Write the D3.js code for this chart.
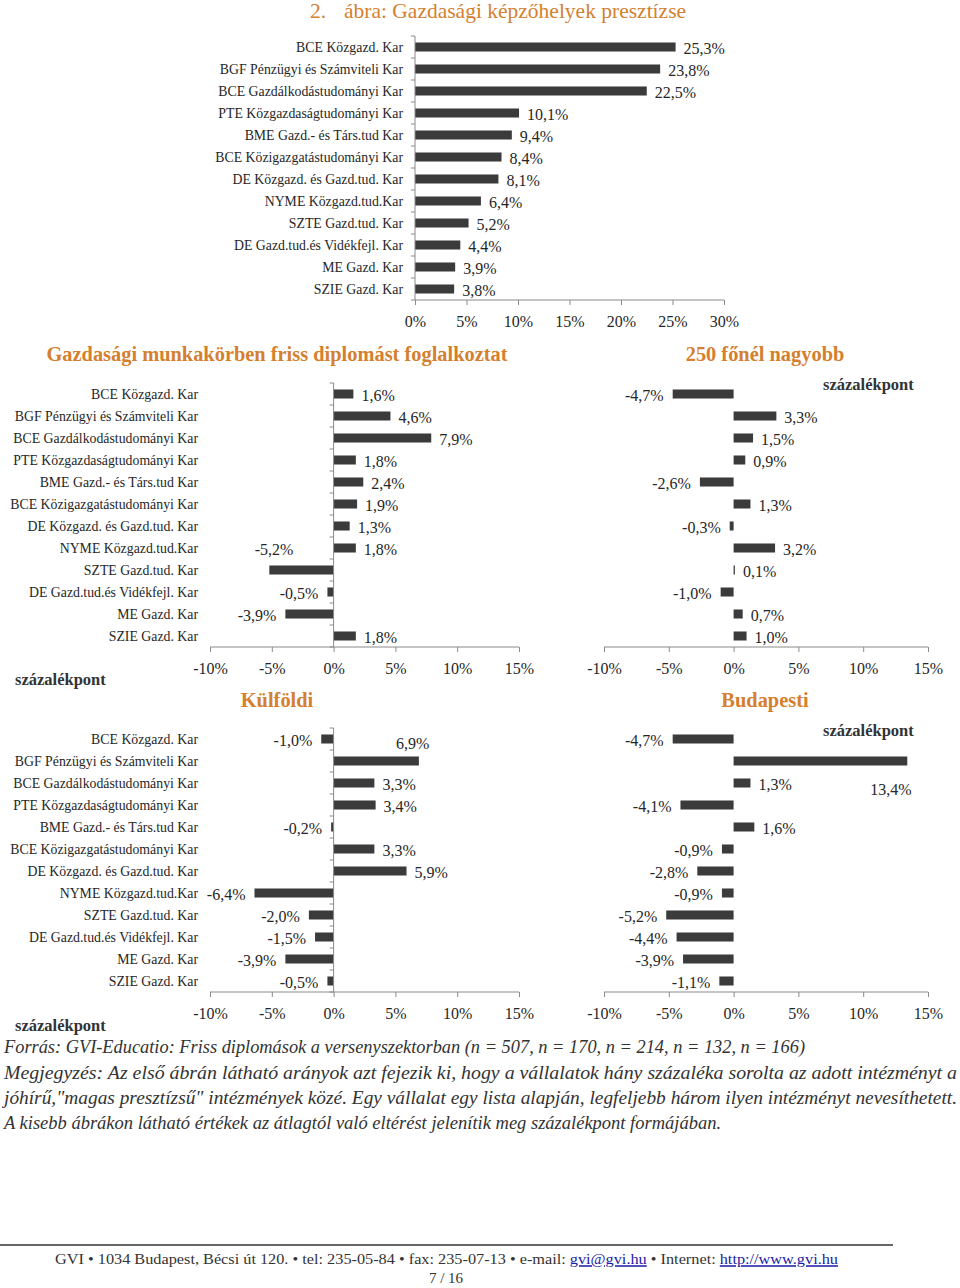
<!DOCTYPE html>
<html><head><meta charset="utf-8">
<script src="https://cdn.jsdelivr.net/npm/d3@7"></script>
<style>
html,body{margin:0;padding:0;background:#fff;}
svg{display:block;}
text{font-family:"Liberation Serif","Times New Roman",serif;}
</style></head>
<body>
<script>
// ---------- data ----------
const categories = [
  "BCE Közgazd. Kar",
  "BGF Pénzügyi és Számviteli Kar",
  "BCE Gazdálkodástudományi Kar",
  "PTE Közgazdaságtudományi Kar",
  "BME Gazd.- és Társ.tud Kar",
  "BCE Közigazgatástudományi Kar",
  "DE Közgazd. és Gazd.tud. Kar",
  "NYME Közgazd.tud.Kar",
  "SZTE Gazd.tud. Kar",
  "DE Gazd.tud.és Vidékfejl. Kar",
  "ME Gazd. Kar",
  "SZIE Gazd. Kar"
];
const prestige  = [25.3, 23.8, 22.5, 10.1, 9.4, 8.4, 8.1, 6.4, 5.2, 4.4, 3.9, 3.8];
const gazdasagi = [1.6, 4.6, 7.9, 1.8, 2.4, 1.9, 1.3, 1.8, -5.2, -0.5, -3.9, 1.8];
const nagyobb250 = [-4.7, 3.3, 1.5, 0.9, -2.6, 1.3, -0.3, 3.2, 0.1, -1.0, 0.7, 1.0];
const kulfoldi  = [-1.0, 6.9, 3.3, 3.4, -0.2, 3.3, 5.9, -6.4, -2.0, -1.5, -3.9, -0.5];
const budapesti = [-4.7, 13.4, 1.3, -4.1, 1.6, -0.9, -2.8, -0.9, -5.2, -4.4, -3.9, -1.1];
const topTicks = [0, 5, 10, 15, 20, 25, 30];
const panelTicks = [-10, -5, 0, 5, 10, 15];

const mainTitleNum = "2.";
const mainTitle = "ábra: Gazdasági képzőhelyek presztízse";
const panelTitles = ["Gazdasági munkakörben friss diplomást foglalkoztat", "250 főnél nagyobb", "Külföldi", "Budapesti"];
const unitLabel = "százalékpont";
const notes = [
  "Forrás: GVI-Educatio: Friss diplomások a versenyszektorban (n = 507, n = 170, n = 214, n = 132, n = 166)",
  "Megjegyzés: Az első ábrán látható arányok azt fejezik ki, hogy a vállalatok hány százaléka sorolta az adott intézményt a",
  "jóhírű,\"magas presztízsű\" intézmények közé. Egy vállalat egy lista alapján, legfeljebb három ilyen intézményt nevesíthetett.",
  "A kisebb ábrákon látható értékek az átlagtól való eltérést jelenítik meg százalékpont formájában."
];

// ---------- style ----------
const ORANGE = "#d4802f";
const BAR = "#3b3b3b";
const AXIS = "#8a8a8a";
const TXT = "#262626";
const fmt = v => (v < 0 ? "-" : "") + Math.abs(v).toFixed(1).replace(".", ",") + "%";

const svg = d3.select("body").append("svg").attr("width", 960).attr("height", 1288);
svg.append("rect").attr("width", 960).attr("height", 1288).attr("fill", "#fff");

// main title
const mt = svg.append("text").attr("y", 10).attr("dy", "0.35em")
  .attr("fill", ORANGE).style("font-size", "21.5px");
mt.append("tspan").attr("x", 310).text(mainTitleNum);
mt.append("tspan").attr("x", 344).text(mainTitle);

function drawPanel(o) {
  const g = svg.append("g");
  const x = d3.scaleLinear().domain(o.domain).range(o.xRange);
  const y = d3.scaleBand().domain(d3.range(o.values.length))
    .range([o.top, o.top + 22 * o.values.length]).paddingInner(0.59).paddingOuter(0.295);
  const bottom = o.top + 22 * o.values.length;
  const x0 = x(0);

  // bars
  g.selectAll("rect.bar").data(o.values).join("rect").attr("class", "bar")
    .attr("x", d => Math.min(x(d), x0)).attr("width", d => Math.abs(x(d) - x0))
    .attr("y", (d, i) => y(i)).attr("height", y.bandwidth()).attr("fill", BAR);

  // horizontal axis
  const ax = g.append("g").attr("transform", `translate(0,${bottom})`)
    .call(d3.axisBottom(x).tickValues(o.ticks).tickSize(5).tickPadding(11).tickFormat(d => d + "%"));
  ax.select(".domain").attr("stroke", AXIS).attr("d", `M${o.xRange[0]},0H${o.xRange[1]}`);
  ax.selectAll(".tick line").attr("stroke", AXIS);
  ax.selectAll(".tick text").attr("fill", TXT).style("font-size", "16px")
    .style("font-family", '"Liberation Serif",serif');

  // vertical axis with category ticks
  if (o.vAxis) {
    g.append("line").attr("x1", x0).attr("x2", x0).attr("y1", o.top).attr("y2", bottom).attr("stroke", AXIS);
    g.selectAll("line.ct").data(d3.range(o.values.length + 1)).join("line").attr("class", "ct")
      .attr("x1", x0 - 4).attr("x2", x0).attr("y1", i => o.top + 22 * i).attr("y2", i => o.top + 22 * i)
      .attr("stroke", AXIS);
  }
  // category labels
  if (o.catRight) {
    g.selectAll("text.cat").data(categories).join("text").attr("class", "cat")
      .attr("x", o.catRight).attr("y", (d, i) => y(i) + y.bandwidth() / 2).attr("dy", "0.35em")
      .attr("text-anchor", "end").attr("fill", TXT).style("font-size", "13.8px").text(d => d);
  }
  // value labels
  const nudge = o.nudge || {};
  g.selectAll("text.val").data(o.values).join("text").attr("class", "val")
    .attr("x", (d, i) => (d >= 0 ? x(d) + 8 : x(d) - 9) + (nudge[i] ? nudge[i].dx : 0))
    .attr("y", (d, i) => y(i) + y.bandwidth() / 2 + 1.5 + (nudge[i] ? nudge[i].dy : 0))
    .attr("dy", "0.35em").attr("text-anchor", d => d >= 0 ? "start" : "end")
    .attr("fill", TXT).style("font-size", "16px").text(d => fmt(d));

  if (o.title) {
    g.append("text").attr("x", o.title.x).attr("y", o.title.y).attr("dy", "0.35em")
      .attr("text-anchor", "middle").attr("fill", ORANGE).style("font-size", "20.4px")
      .style("font-weight", "bold").text(o.title.text);
  }
  if (o.unit) {
    g.append("text").attr("x", o.unit.x).attr("y", o.unit.y).attr("dy", "0.35em")
      .attr("fill", "#333").style("font-size", "16.5px").style("font-weight", "bold").text(unitLabel);
  }
}

// top chart
drawPanel({ values: prestige, domain: [0, 30], xRange: [415, 724], top: 36, ticks: topTicks,
  vAxis: true, catRight: 403 });

// panel 1
drawPanel({ values: gazdasagi, domain: [-10, 15], xRange: [210, 519], top: 383, ticks: panelTicks,
  vAxis: true, catRight: 198,
  title: { x: 277, y: 354, text: panelTitles[0] }, unit: { x: 15, y: 679 },
  nudge: { 8: { dx: 33, dy: -22 } } });
// panel 2
drawPanel({ values: nagyobb250, domain: [-10, 15], xRange: [604, 928], top: 383, ticks: panelTicks,
  vAxis: false, title: { x: 765, y: 354, text: panelTitles[1] }, unit: { x: 823, y: 384 } });
// panel 3
drawPanel({ values: kulfoldi, domain: [-10, 15], xRange: [210, 519], top: 728, ticks: panelTicks,
  vAxis: true, catRight: 198,
  title: { x: 277, y: 700, text: panelTitles[2] }, unit: { x: 15, y: 1025 },
  nudge: { 1: { dx: -31, dy: -19 } } });
// panel 4
drawPanel({ values: budapesti, domain: [-10, 15], xRange: [604, 928], top: 728, ticks: panelTicks,
  vAxis: false, title: { x: 765, y: 700, text: panelTitles[3] }, unit: { x: 823, y: 730 },
  nudge: { 1: { dx: -45, dy: 27 } } });

// notes
const noteY = [1047, 1073, 1098, 1123];
const noteW = [801, 953, 953, 717];
svg.selectAll("text.note").data(notes).join("text").attr("class", "note")
  .attr("x", 4).attr("y", (d, i) => noteY[i]).attr("dy", "0.35em")
  .attr("textLength", (d, i) => noteW[i]).attr("lengthAdjust", "spacingAndGlyphs")
  .attr("fill", "#333").style("font-size", "18px").style("font-style", "italic").text(d => d);

// footer
svg.append("line").attr("x1", 0).attr("x2", 893).attr("y1", 1245).attr("y2", 1245)
  .attr("stroke", "#333").attr("stroke-width", 1.5);
const ft = svg.append("text").attr("x", 55).attr("y", 1259).attr("dy", "0.35em")
  .attr("textLength", 783).attr("lengthAdjust", "spacingAndGlyphs")
  .attr("fill", "#333").style("font-size", "15px");
ft.append("tspan").text("GVI • 1034 Budapest, Bécsi út 120. • tel: 235-05-84 • fax: 235-07-13 • e-mail: ");
ft.append("tspan").attr("fill", "#1a1aa6").attr("text-decoration", "underline").text("gvi@gvi.hu");
ft.append("tspan").text(" • Internet: ");
ft.append("tspan").attr("fill", "#1a1aa6").attr("text-decoration", "underline").text("http://www.gvi.hu");
svg.append("text").attr("x", 446).attr("y", 1278).attr("dy", "0.35em").attr("text-anchor", "middle")
  .attr("fill", "#333").style("font-size", "15px").text("7 / 16");
</script>
</body></html>
